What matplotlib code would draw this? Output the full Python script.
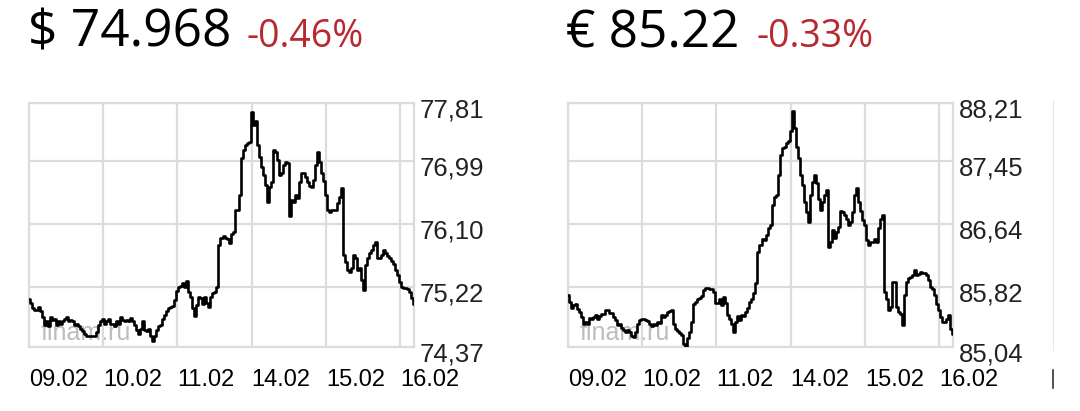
import matplotlib
matplotlib.use("Agg")
import matplotlib.pyplot as plt
import matplotlib.transforms as mtransforms
from matplotlib.lines import Line2D
import numpy as np

# intraday quotes, sampled at a fixed step (37 samples per trading day)
samples_per_day = 37
day_labels = ["09.02", "10.02", "11.02", "14.02", "15.02", "16.02"]

usd_values = [
    75.05, 74.99, 74.92, 74.89, 74.89, 74.94, 74.88, 74.80, 74.68, 74.73,
    74.66, 74.80, 74.75, 74.77, 74.68, 74.74, 74.70, 74.73, 74.77, 74.80,
    74.74, 74.75, 74.73, 74.68, 74.69, 74.67, 74.63, 74.59, 74.56, 74.53,
    74.52, 74.52, 74.52, 74.52, 74.58, 74.68, 74.73, 74.77, 74.70, 74.74,
    74.77, 74.70, 74.69, 74.66, 74.73, 74.69, 74.80, 74.75, 74.73, 74.75,
    74.74, 74.78, 74.73, 74.68, 74.61, 74.56, 74.63, 74.73, 74.61, 74.59,
    74.63, 74.53, 74.45, 74.53, 74.61, 74.67, 74.68, 74.77, 74.82, 74.88,
    74.92, 74.94, 74.95, 75.03, 75.16, 75.21, 75.23, 75.27, 75.22, 75.30,
    75.15, 75.08, 74.92, 74.81, 74.96, 75.07, 75.06, 74.97, 75.08, 74.99,
    74.94, 75.08, 75.13, 75.15, 75.22, 75.81, 75.91, 75.93, 75.91, 75.89,
    75.83, 75.96, 75.99, 76.30, 76.30, 76.51, 77.03, 77.15, 77.22, 77.24,
    77.26, 77.69, 77.50, 77.55, 77.22, 77.05, 76.91, 76.80, 76.65, 76.42,
    76.63, 76.70, 77.15, 77.12, 77.01, 76.80, 76.82, 76.93, 76.98, 76.96,
    76.21, 76.44, 76.42, 76.51, 76.47, 76.69, 76.83, 76.82, 76.77, 76.69,
    76.64, 76.62, 76.72, 76.94, 77.12, 76.98, 76.82, 76.71, 76.51, 76.30,
    76.27, 76.30, 76.30, 76.30, 76.40, 76.49, 76.61, 75.67, 75.57, 75.46,
    75.43, 75.48, 75.67, 75.62, 75.46, 75.48, 75.31, 75.17, 75.53, 75.62,
    75.69, 75.74, 75.81, 75.85, 75.62, 75.63, 75.67, 75.74, 75.69, 75.66,
    75.62, 75.58, 75.54, 75.46, 75.39, 75.29, 75.21, 75.20, 75.20, 75.19,
    75.15, 75.06, 74.97,
]

eur_values = [
    85.72, 85.63, 85.55, 85.58, 85.60, 85.54, 85.50, 85.43, 85.34, 85.37,
    85.34, 85.42, 85.41, 85.43, 85.46, 85.41, 85.44, 85.47, 85.47, 85.52,
    85.52, 85.48, 85.48, 85.43, 85.39, 85.33, 85.34, 85.29, 85.26, 85.24,
    85.26, 85.23, 85.18, 85.17, 85.24, 85.34, 85.39, 85.40, 85.40, 85.39,
    85.38, 85.34, 85.31, 85.34, 85.33, 85.36, 85.35, 85.45, 85.43, 85.46,
    85.50, 85.51, 85.52, 85.34, 85.28, 85.25, 85.22, 85.20, 85.08, 85.04,
    85.16, 85.23, 85.37, 85.60, 85.63, 85.66, 85.68, 85.70, 85.78, 85.81,
    85.81, 85.80, 85.79, 85.76, 85.61, 85.61, 85.66, 85.59, 85.69, 85.61,
    85.45, 85.40, 85.34, 85.23, 85.37, 85.44, 85.39, 85.45, 85.44, 85.50,
    85.55, 85.62, 85.67, 85.74, 85.87, 86.28, 86.37, 86.44, 86.43, 86.50,
    86.59, 86.63, 86.89, 86.99, 87.02, 87.28, 87.53, 87.62, 87.64, 87.69,
    87.71, 87.84, 88.10, 87.88, 87.64, 87.49, 87.28, 87.15, 86.93, 86.80,
    86.67, 87.02, 87.19, 87.28, 87.17, 86.96, 86.82, 86.93, 87.02, 87.08,
    86.34, 86.41, 86.56, 86.45, 86.53, 86.60, 86.81, 86.80, 86.76, 86.70,
    86.63, 86.67, 86.79, 87.02, 87.10, 86.93, 86.81, 86.69, 86.63, 86.43,
    86.36, 86.41, 86.41, 86.44, 86.41, 86.58, 86.70, 86.75, 85.76, 85.66,
    85.52, 85.56, 85.89, 85.89, 85.56, 85.49, 85.47, 85.33, 85.72, 85.89,
    85.93, 85.95, 85.98, 86.04, 85.98, 85.99, 86.01, 86.00, 86.00, 85.97,
    85.91, 85.82, 85.79, 85.72, 85.60, 85.52, 85.43, 85.37, 85.37, 85.41,
    85.46, 85.28, 85.21,
]

usd_ticks = [74.37, 75.22, 76.10, 76.99, 77.81]
usd_tick_labels = ["74,37", "75,22", "76,10", "76,99", "77,81"]
eur_ticks = [85.04, 85.82, 86.64, 87.45, 88.21]
eur_tick_labels = ["85,04", "85,82", "86,64", "87,45", "88,21"]

usd_price, usd_change = "$ 74.968", "-0.46%"
eur_price, eur_change = "€ 85.22", "-0.33%"

W, H = 1080, 411
fig = plt.figure(figsize=(W / 100, H / 100), dpi=100)
fig.patch.set_facecolor("white")

grid_col = "#dcdcdc"
red = "#b8282f"


def draw_panel(left_px, values, ticks, tick_labels):
    ax = fig.add_axes([left_px / W, (H - 347) / H, 385 / W, 244 / H])
    x = np.arange(len(values)) / samples_per_day
    ax.plot(x, values, color="black", lw=1.9, drawstyle="steps-mid", zorder=3)
    ax.set_xlim(0, (len(values) - 1) / samples_per_day)
    ax.set_ylim(ticks[0], ticks[-1])

    ax.set_xticks(range(len(day_labels)))
    ax.set_xticklabels(day_labels, ha="left", fontsize=17,
                       family="Liberation Sans", color="black")
    ax.set_yticks(ticks)
    ax.set_yticklabels(tick_labels, fontsize=18.5,
                       family="Liberation Sans", color="#222")
    ax.yaxis.tick_right()
    ax.tick_params(axis="both", length=0)
    ax.tick_params(axis="y", pad=4)
    ax.tick_params(axis="x", pad=16)
    off = mtransforms.ScaledTranslation(0, -5 / 100, fig.dpi_scale_trans)
    for lab in ax.get_yticklabels():
        lab.set_transform(lab.get_transform() + off)

    ax.grid(True, color=grid_col, lw=1.6, zorder=0)
    for s in ax.spines.values():
        s.set_color(grid_col)
        s.set_linewidth(1.6)

    ax.text(0.03, 0.03, "finam.ru", transform=ax.transAxes, fontsize=18,
            family="Liberation Sans", color="#bdbdbd", zorder=1)
    return ax


draw_panel(29, usd_values, usd_ticks, usd_tick_labels)
draw_panel(568, eur_values, eur_ticks, eur_tick_labels)

base = (H - 47) / H
fig.text(28 / W, base, usd_price, fontsize=37, family="Open Sans",
         color="black", va="baseline")
fig.text(247 / W, base, usd_change, fontsize=27, family="Open Sans",
         color=red, va="baseline")
fig.text(566 / W, base, eur_price, fontsize=37, family="Open Sans",
         color="black", va="baseline")
fig.text(757 / W, base, eur_change, fontsize=27, family="Open Sans",
         color=red, va="baseline")

# cropped edge of a neighbouring widget at the right border
fig.add_artist(Line2D([1053 / W, 1053 / W], [(H - 350) / H, (H - 100) / H],
                      color="#e6e6e6", lw=0.8))
fig.add_artist(Line2D([1053 / W, 1053 / W], [(H - 388) / H, (H - 370) / H],
                      color="#333", lw=1.2))

fig.savefig("out.png", dpi=100)
